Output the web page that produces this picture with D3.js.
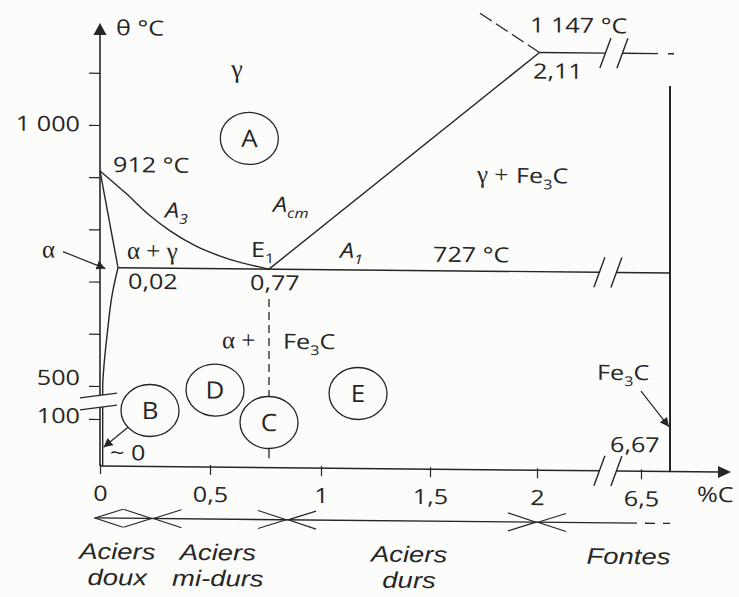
<!DOCTYPE html>
<html>
<head>
<meta charset="utf-8">
<script src="https://cdn.jsdelivr.net/npm/d3@7"></script>
<style>
  html, body { margin: 0; padding: 0; background: #fcfcfa; }
  svg { display: block; }
</style>
</head>
<body>
<svg id="chart" width="739" height="597"></svg>
<script>
// Fe – Fe3C diagram (steel side), schematic with broken axes

// ---- axis ticks ----
const xTicks = [0, 0.5, 1, 1.5, 2, 6.5];
const yTicks = [100, 500, 600, 700, 800, 900, 1000, 1100];
const yTickText = { 100: "100", 500: "500", 1000: "1 000" };

// ---- phase boundaries (C %, °C) ----
// A3 : gamma / alpha+gamma
const a3Carbon = [0, 0.06, 0.175, 0.29, 0.425, 0.59, 0.77];
const a3Temp   = [912, 870, 831, 799, 770, 745, 727];
// alpha / alpha+gamma
const alphaCarbon = [0, 0.02];
const alphaTemp   = [912, 727];
// solubility of carbon in alpha iron
const solvusCarbon = [0.02, 0.014, 0.008, 0.004, 0.003, 0.003, 0.003];
const solvusTemp   = [727, 680, 600, 530, 500, 100, 0];
// Acm : gamma / gamma+Fe3C
const acmCarbon = [0.77, 2.11];
const acmTemp   = [727, 1147];
// liquidus stub above the eutectic point
const liqCarbon = [2.11, 1.73];
const liqTemp   = [1147, 1222];
// key points
const eutectoidC = 0.77, eutectoidT = 727, alphaMaxC = 0.02;
const eutecticC = 2.11, eutecticT = 1147;
const cementiteC = 6.67, cementiteTop = 1085;

// ---- steel classes along the carbon axis ----
const classBounds = [0, 0.2, 0.85, 2, 6.67];
const classNames = [["Aciers", "doux"], ["Aciers", "mi-durs"], ["Aciers", "durs"], ["Fontes"]];

// ---- region markers (C %, °C) ----
const regionNames = ["A", "B", "C", "D", "E"];
const regionCarbon = [0.68, 0.187, 0.77, 0.523, 1.17];
const regionTemp   = [977, 209, 96, 464, 439];

// ---------------------------------------------------------------
const ink = "#262626";
const sans = "'Open Sans', 'Noto Sans', sans-serif";
const serif = "'Liberation Serif', 'DejaVu Serif', serif";
const SX = 1.2;           // glyphs are drawn a little wide

const svg = d3.select("#chart");
svg.append("rect").attr("width", 739).attr("height", 597).attr("fill", "#fcfcfa");

// piecewise scales: the carbon axis is broken between 2 and 6.5 %, the
// temperature axis between 100 and 500 °C
const x = d3.scaleLinear()
  .domain([0, 0.02, 0.5, 0.77, 1, 1.5, 2, 6.5, 6.67])
  .range([100, 118, 210, 269, 321, 430, 537, 641, 670]);
const y = d3.scaleLinear()
  .domain([0, 100, 500, 1000])
  .range([466, 419, 386, 125]);

const g = svg.append("g")
  .attr("transform", "translate(100,466) skewY(0.55) translate(-100,-466)");

const line = d3.line().x(d => x(d[0])).y(d => y(d[1]));
const zip = (a, b) => a.map((v, i) => [v, b[i]]);

function stroke(sel, w = 1.4) {
  return sel.attr("fill", "none").attr("stroke", ink).attr("stroke-width", w);
}

function stretch(sel) {
  sel.each(function () {
    const t = d3.select(this);
    const xx = +(t.attr("x") || 0);
    t.attr("x", xx / SX).attr("transform", `scale(${SX},1)`);
  });
}

function label(x0, y0, parts, o = {}) {
  const size = o.size || 21;
  const t = g.append("text")
    .attr("transform", `translate(${x0},${y0}) scale(${o.sx ?? SX},1)`)
    .attr("text-anchor", o.anchor || "start")
    .attr("font-family", o.family || sans)
    .attr("font-size", size)
    .attr("font-style", o.italic ? "italic" : null)
    .attr("fill", ink);
  let shift = 0;
  parts.forEach(p => {
    const [s, kind] = Array.isArray(p) ? p : [p, null];
    const sp = t.append("tspan").text(s);
    if (kind === "sub") {
      sp.attr("font-size", size * 0.64).attr("dy", 6 - shift);
      shift = 6;
    } else if (shift) {
      sp.attr("dy", -shift);
      shift = 0;
    }
  });
  return t;
}

// ---------- axes ----------
const x0 = x(0), y0 = y(0);
const b1 = x(2) + (x(6.5) - x(2)) * 0.6;   // axis break slashes
const b2 = b1 + 17;

function slash(cx, cy) {
  stroke(g.append("path"), 1.4)
    .attr("d", `M${cx - 5.5},${cy + 15}L${cx + 5.5},${cy - 15}`);
}

const xAxis = d3.axisBottom(x).tickValues(xTicks).tickSize(8).tickPadding(12)
  .tickFormat(d => String(d).replace(".", ","));
const gx = g.append("g").attr("transform", `translate(0,${y0})`).call(xAxis);
gx.select(".domain").remove();
gx.selectAll(".tick line").attr("y1", -2).attr("stroke", ink).attr("stroke-width", 1.2);
gx.selectAll("text").attr("font-family", sans).attr("font-size", 21).attr("fill", ink);
stretch(gx.selectAll("text"));

stroke(g.append("path"), 1.5).attr("d", `M${x0},${y0}H${b1}M${b2},${y0}H720`);
g.append("path").attr("fill", ink).attr("d", `M731,${y0}L718,${y0 - 6}L718,${y0 + 6}Z`);
slash(b1, y0); slash(b2, y0);
label(697, y0 + 30, ["%C"]);

const yAxis = d3.axisLeft(y).tickValues(yTicks).tickSize(11).tickPadding(9)
  .tickFormat(d => yTickText[d] || "");
const gy = g.append("g").attr("transform", `translate(${x0},0)`).call(yAxis);
gy.select(".domain").remove();
gy.selectAll(".tick line").attr("stroke", ink).attr("stroke-width", 1.2);
gy.selectAll("text").attr("font-family", sans).attr("font-size", 21).attr("fill", ink)
  .attr("dy", d => d === 500 ? "-0.05em" : d === 100 ? "0.19em" : "0.29em");
stretch(gy.selectAll("text"));

stroke(g.append("path"), 1.6).attr("d", `M${x0},${y0}V34`);
g.append("path").attr("fill", ink).attr("d", `M${x0},23L${x0 - 6.5},35L${x0 + 6.5},35Z`);
label(116, 35, ["θ °C"]);

// ---------- phase boundaries ----------
stroke(g.append("path"), 1.4).attr("d", d3.line().x(d => x(d[0])).y(d => y(d[1]))
  .curve(d3.curveMonotoneX)(zip(a3Carbon, a3Temp)));
stroke(g.append("path"), 1.4).attr("d", line(zip(alphaCarbon, alphaTemp)));
stroke(g.append("path"), 1.4).attr("d", d3.line().x(d => x(d[0])).y(d => y(d[1]))
  .curve(d3.curveMonotoneY)(zip(solvusCarbon, solvusTemp)));
stroke(g.append("path"), 1.4).attr("d", line(zip(acmCarbon, acmTemp)));
stroke(g.append("path"), 1.4).attr("stroke-dasharray", "14,5")
  .attr("d", line(zip(liqCarbon, liqTemp)));

// eutectoid line 727 °C
const yE = y(eutectoidT);
stroke(g.append("path"), 1.4)
  .attr("d", `M${x(alphaMaxC)},${yE}H${b1}M${b2},${yE}H${x(cementiteC)}`);
slash(b1, yE); slash(b2, yE);

// eutectic line 1147 °C
const yL = y(eutecticT);
stroke(g.append("path"), 1.4)
  .attr("d", `M${x(eutecticC)},${yL}H${b1 + 6}M${b2 + 6},${yL}H${x(cementiteC) - 12}` +
             `M${x(cementiteC) - 2},${yL}H${x(cementiteC) + 4}`);
slash(b1 + 6, yL); slash(b2 + 6, yL);

// cementite line
stroke(g.append("path"), 2)
  .attr("d", `M${x(cementiteC)},${y(0)}V${y(cementiteTop)}`);

// temperature axis break (100 -> 500 °C)
{
  const ym = (y(100) + y(500)) / 2 + 0.5;
  const xa = x0 - 20, xb = x0 + 17;
  g.append("path").attr("fill", "#fcfcfa")
    .attr("d", `M${xa},${ym - 5}L${xb},${ym - 10}L${xb},${ym + 2}L${xa},${ym + 7}Z`);
  stroke(g.append("path"), 1.3)
    .attr("d", `M${xa},${ym - 5}L${xb},${ym - 10}M${xa},${ym + 7}L${xb},${ym + 2}`);
}

// eutectoid composition (dashed) through circle C
const rx = 29, ry = 26;
const cC = regionNames.indexOf("C");
const cCy = y(regionTemp[cC]);
stroke(g.append("path"), 1.3).attr("stroke-dasharray", "8,5")
  .attr("d", `M${x(eutectoidC)},${y(670)}V${cCy - ry}`);
stroke(g.append("path"), 1.3)
  .attr("d", `M${x(eutectoidC)},${cCy + ry}V${y(20)}`);

// ---------- region markers ----------
regionNames.forEach((n, i) => {
  const cx = x(regionCarbon[i]), cy = y(regionTemp[i]);
  stroke(g.append("ellipse"), 1.3).attr("cx", cx).attr("cy", cy).attr("rx", rx).attr("ry", ry);
  label(cx, cy + 8.5, [n], { anchor: "middle", size: 24, sx: 1.08 });
});

// ---------- arrows ----------
const defs = svg.append("defs");
defs.append("marker").attr("id", "head").attr("viewBox", "0 0 10 10")
  .attr("refX", 10).attr("refY", 5).attr("markerWidth", 9).attr("markerHeight", 9)
  .attr("markerUnits", "userSpaceOnUse").attr("orient", "auto")
  .append("path").attr("d", "M0,0L10,5L0,10Z").attr("fill", ink);

function arrow(xa, ya, xb, yb) {
  stroke(g.append("path"), 1.2).attr("d", `M${xa},${ya}L${xb},${yb}`)
    .attr("marker-end", "url(#head)");
}
arrow(63, 252, x(0.006), y(725));                       // alpha
{
  const iB = regionNames.indexOf("B");
  const bx = x(regionCarbon[iB]), by = y(regionTemp[iB]);
  arrow(bx - 22, by + 17, x(0.004), y(40));            // ~0
}
arrow(641, 386, x(cementiteC) - 1, y(95));              // Fe3C

// ---------- labels ----------
label(237, 76, ["γ"], { family: serif, size: 26, sx: 1, anchor: "middle" });
label(113, y(912) + 1, ["912 °C"]);
label(165, 217, [["A"], ["3", "sub"]], { italic: true });
label(273, 210, [["A"], ["cm", "sub"]], { italic: true });
label(127, y(eutectoidT) - 9, ["α + γ"], { family: serif, size: 25, sx: 1 });
label(251, y(eutectoidT) - 12, [["E"], ["1", "sub"]]);
label(340, y(eutectoidT) - 12, [["A"], ["1", "sub"]], { italic: true });
label(433, y(eutectoidT) - 9, ["727 °C"]);
label(x(alphaMaxC) + 10, y(eutectoidT) + 21, ["0,02"]);
label(x(eutectoidC) - 19, y(eutectoidT) + 21, ["0,77"]);
label(222, 347, ["α  +"], { family: serif, size: 25, sx: 1 });
label(283, 347, [["Fe"], ["3", "sub"], ["C"]]);
label(477, 179, ["γ +"], { family: serif, size: 25, sx: 1 });
label(516, 179, [["Fe"], ["3", "sub"], ["C"]]);
label(530, y(eutecticT) - 20, ["1 147 °C"]);
label(533, y(eutecticT) + 26, ["2,11"]);
label(597, 375, [["Fe"], ["3", "sub"], ["C"]]);
label(610, 447, ["6,67"]);
label(110, 460, ["~ 0"]);
label(42, 258, ["α"], { family: serif, size: 25, sx: 1 });

// ---------- steel classes ----------
const yLeg = 518;
stroke(g.append("path"), 1.3)
  .attr("d", `M${x0 - 5},${yLeg}H${x(6.5) - 4}M${x(6.5) + 4},${yLeg}H${x(6.5) + 14}M${x(6.5) + 22},${yLeg}H${x(cementiteC)}`);

function chevron(tip, dir) {
  stroke(g.append("path"), 1.2)
    .attr("d", `M${tip + dir * 28},${yLeg - 9}L${tip},${yLeg}L${tip + dir * 28},${yLeg + 9}`);
}
const nudge = [-9, -2, -3, 25];
const classFont = "'Liberation Sans', Arial, sans-serif";
classNames.forEach((lines, i) => {
  const a = classBounds[i], b = classBounds[i + 1];
  const xa = x(a) + (a === 0 ? -5 : 1);
  chevron(xa, 1);
  if (i < classNames.length - 1) chevron(x(b) - 1, -1);
  const cx = (x(a) + x(b)) / 2 + nudge[i];
  lines.forEach((s, k) => label(cx, 559 + k * 26, [s],
    { anchor: "middle", italic: true, size: 22.5, sx: 1.22, family: classFont }));
});
</script>
</body>
</html>
